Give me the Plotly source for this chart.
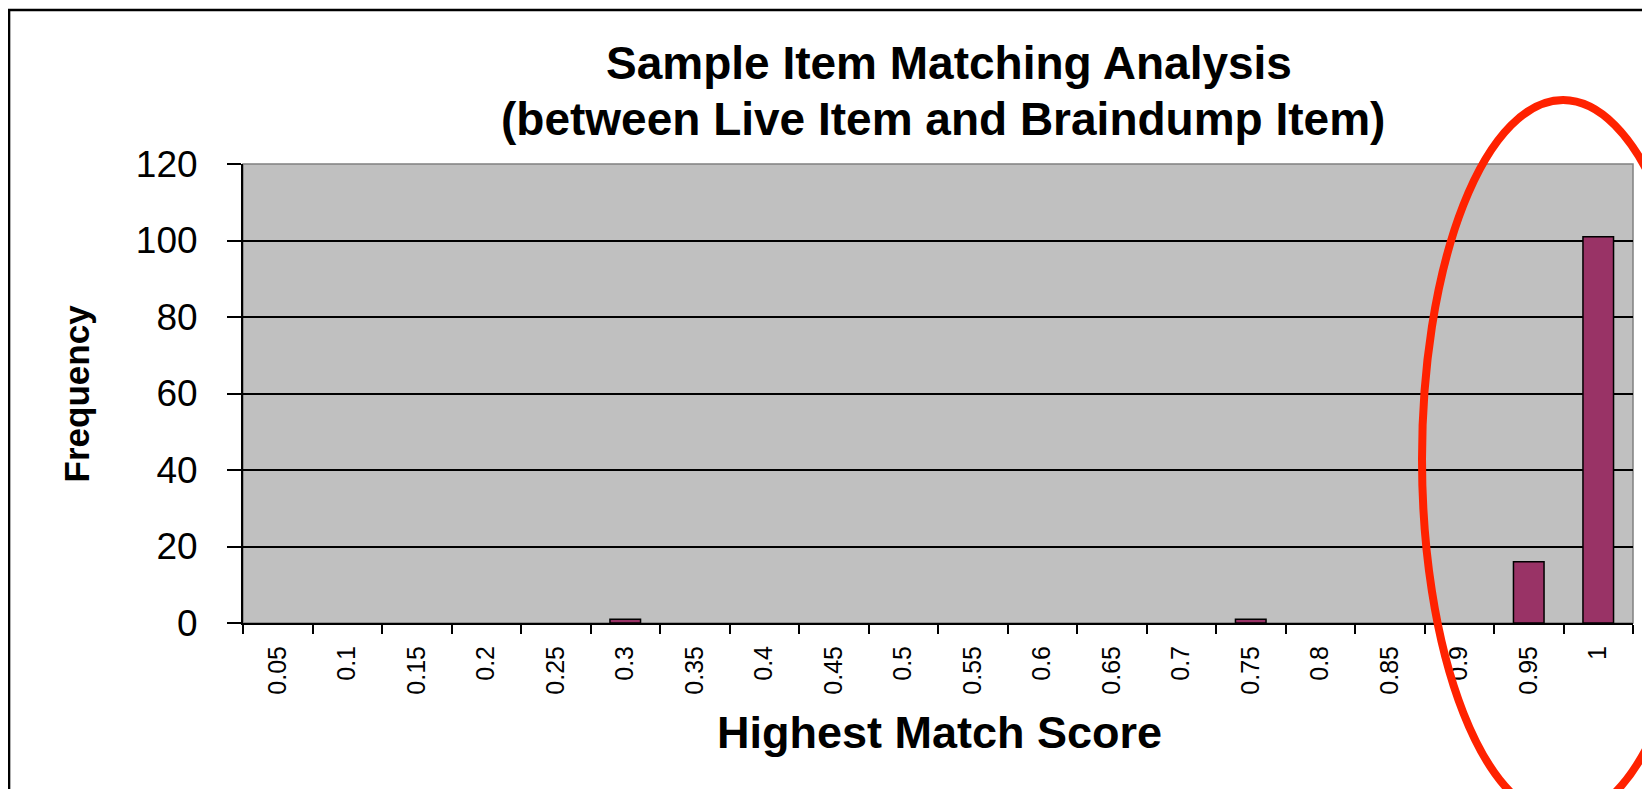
import plotly.graph_objects as go

# ---- data ----
categories = ["0.05", "0.1", "0.15", "0.2", "0.25", "0.3", "0.35", "0.4", "0.45", "0.5",
              "0.55", "0.6", "0.65", "0.7", "0.75", "0.8", "0.85", "0.9", "0.95", "1"]
frequency = [0, 0, 0, 0, 0, 1, 0, 0, 0, 0,
             0, 0, 0, 0, 1, 0, 0, 0, 16, 101]
y_ticks = [0, 20, 40, 60, 80, 100, 120]

title_line1 = "Sample Item Matching Analysis"
title_line2 = "(between Live Item and Braindump Item)"
x_title = "Highest Match Score"
y_title = "Frequency"

FONT = "Liberation Sans, Arial, sans-serif"

# outline only on bars that have height
outline_widths = [1.5 if v > 0 else 0 for v in frequency]

fig = go.Figure()
fig.add_trace(go.Bar(
    x=categories, y=frequency,
    marker=dict(color="#993366", line=dict(color="black", width=outline_widths)),
    hoverinfo="x+y",
))

# page body has an 8px default margin, so the figure is sized to fill the rest
fig.update_layout(
    width=1642, height=781,
    margin=dict(l=235, r=17, t=156, b=166, autoexpand=False),
    paper_bgcolor="white",
    plot_bgcolor="#c0c0c0",
    bargap=0.56,
    showlegend=False,
    font=dict(family=FONT, color="black"),
)

fig.update_xaxes(
    type="category",
    automargin=False,
    showgrid=False,
    showline=True, linecolor="black", linewidth=2,
    ticks="outside", tickson="boundaries", ticklen=9, tickwidth=2, tickcolor="black",
    tickangle=-90,
    ticklabelstandoff=11,
    tickfont=dict(family=FONT, size=25, color="black"),
)
fig.update_yaxes(
    range=[0, 120],
    tickvals=y_ticks,
    automargin=False,
    showgrid=True, gridcolor="black", gridwidth=2,
    zeroline=False,
    showline=True, linecolor="black", linewidth=2,
    ticks="outside", ticklen=14, tickwidth=2, tickcolor="black",
    ticklabelstandoff=22,
    tickfont=dict(family=FONT, size=37, color="black"),
)

# plot-area border (top/right in gray)
fig.add_shape(type="rect", xref="paper", yref="paper", x0=0, x1=1, y0=0, y1=1,
              line=dict(color="#808080", width=1.5), layer="below")
# chart outer border
fig.add_shape(type="rect", xref="paper", yref="paper",
              x0=-0.1683, x1=1.05, y0=-0.45, y1=1.3355,
              line=dict(color="black", width=2.5))

# titles
fig.add_annotation(text="<b>%s</b>" % title_line1, xref="paper", yref="paper",
                   x=0.5079, y=1.2190, xanchor="center", yanchor="middle",
                   showarrow=False, borderpad=0,
                   font=dict(family=FONT, size=46, color="black"))
fig.add_annotation(text="<b>%s</b>" % title_line2, xref="paper", yref="paper",
                   x=0.5036, y=1.0970, xanchor="center", yanchor="middle",
                   showarrow=False, borderpad=0,
                   font=dict(family=FONT, size=46, color="black"))
fig.add_annotation(text="<b>%s</b>" % x_title, xref="paper", yref="paper",
                   x=0.5011, y=-0.2386, xanchor="center", yanchor="middle",
                   showarrow=False, font=dict(family=FONT, size=45, color="black"))
fig.add_annotation(text="<b>%s</b>" % y_title, xref="paper", yref="paper",
                   x=-0.1195, y=0.5, xanchor="center", yanchor="middle", textangle=-90,
                   showarrow=False, font=dict(family=FONT, size=35, color="black"))

# red highlight ellipse
fig.add_shape(type="circle", xref="paper", yref="paper",
              x0=0.8482, x1=1.0511, y0=-0.4248, y1=1.1394,
              line=dict(color="#ff2200", width=8))

fig.write_html("out.html")
